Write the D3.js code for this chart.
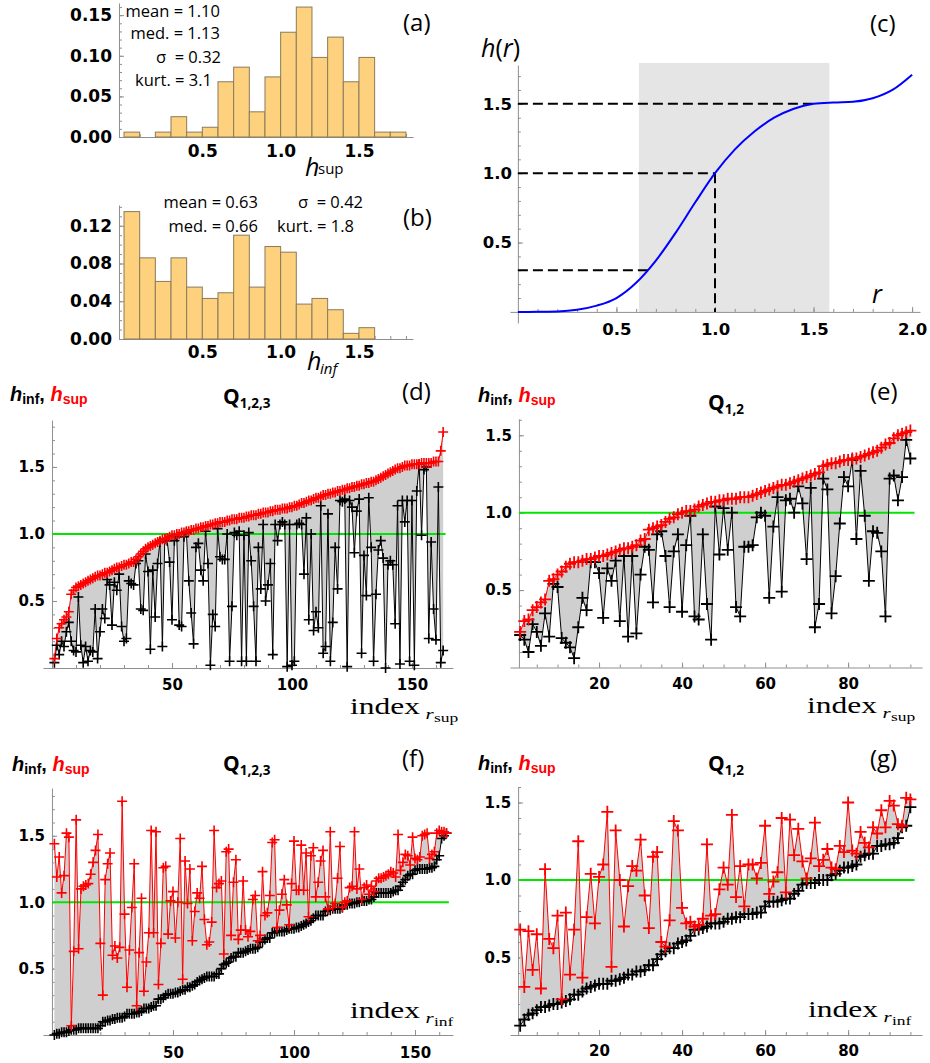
<!DOCTYPE html>
<html>
<head>
<meta charset="utf-8">
<script src="https://cdn.jsdelivr.net/npm/d3@7/dist/d3.min.js"></script>
<style>
  body { margin: 0; background: #fff; }
  svg { display: block; }
</style>
</head>
<body>
<svg id="fig" width="930" height="1063"></svg>
<script>
// ---------- data ----------
const binStart = [0.0, 0.1, 0.2, 0.3, 0.4, 0.5, 0.6, 0.7, 0.8, 0.9, 1.0, 1.1, 1.2, 1.3, 1.4, 1.5, 1.6, 1.7];
const binWidth = 0.1;
const supDensity = [0.006, 0, 0.006, 0.025, 0.006, 0.012, 0.068, 0.086, 0.031, 0.074, 0.129, 0.160, 0.098, 0.123, 0.068, 0.098, 0.006, 0.006];
const infDensity = [0.135, 0.086, 0.061, 0.086, 0.055, 0.043, 0.049, 0.110, 0.055, 0.098, 0.092, 0.037, 0.043, 0.031, 0.006, 0.012, 0, 0];
const supStats = ["mean = 1.10", "med. = 1.13", "σ\u00a0 = 0.32", "kurt. = 3.1"];
const infStats = ["mean = 0.63", "med. = 0.66", "σ\u00a0 = 0.42", "kurt. = 1.8"];

// h(r) sampled from panel (c)
const curveR = [0, 0.1, 0.2, 0.3, 0.4, 0.5, 0.6, 0.7, 0.8, 0.9, 1.0, 1.1, 1.2, 1.3, 1.4, 1.5, 1.6, 1.7, 1.8, 1.9, 2.0];
const curveH = [0, 0.0005, 0.003, 0.015, 0.045, 0.10, 0.21, 0.37, 0.57, 0.79, 1.00, 1.17, 1.30, 1.40, 1.465, 1.50, 1.51, 1.515, 1.54, 1.60, 1.71];
const windowR = [0.614, 1.58];
const windowTop = 1.795;
const guideR = [0.66, 1.0, 1.5];
const guideH = [0.3, 1.0, 1.5];
const guideDrop = [1.0];

// Q_{1,2,3}: pairs in order of increasing h_sup (panel d)
const q123Sup = [0.07,0.22,0.30,0.33,0.36,0.38,0.42,0.55,0.58,
  0.60,0.61,0.62,0.63,0.64,0.65,0.66,0.67,0.68,0.69,0.69,
  0.70,0.71,0.71,0.72,0.73,0.74,0.75,0.75,0.76,0.77,0.77,0.78,0.79,0.79,
  0.81,0.83,0.85,0.87,0.89,
  0.90,0.91,0.92,0.93,0.94,0.95,0.96,0.96,0.97,0.98,0.99,0.99,
  1.00,1.00,1.01,1.01,1.02,1.02,1.03,1.03,1.04,1.04,1.05,1.05,1.06,1.06,1.07,1.07,1.08,1.08,1.09,1.09,1.09,
  1.10,1.10,1.11,1.11,1.11,1.12,1.12,1.12,1.13,1.13,1.14,1.14,1.14,1.15,1.15,1.16,1.16,1.16,1.17,1.17,1.18,1.18,1.18,1.19,1.19,1.19,
  1.20,1.20,1.21,1.21,1.22,1.23,1.23,1.24,1.25,1.25,1.26,1.27,1.27,1.28,1.29,1.29,
  1.30,1.30,1.31,1.31,1.32,1.32,1.33,1.33,1.34,1.34,1.35,1.35,1.36,1.36,1.37,1.37,1.38,1.38,1.39,1.39,
  1.40,1.41,1.42,1.43,1.44,1.45,1.46,1.47,1.48,1.49,1.49,
  1.50,1.51,1.51,1.51,1.52,1.52,1.52,1.52,1.53,1.53,1.53,1.53,1.53,1.54,1.54,1.54,
  1.62,1.76];
const q123Inf = [0.04,0.17,0.10,0.20,0.16,0.27,0.34,0.20,0.13,0.12,
  0.53,0.17,0.04,0.16,0.05,0.13,0.12,0.44,0.07,0.27,
  0.44,0.37,0.66,0.62,0.32,0.64,0.58,0.70,0.31,0.20,
  0.22,0.65,0.63,0.62,0.78,0.80,0.44,0.43,0.85,0.72,
  0.14,0.73,0.38,0.78,0.94,0.16,0.96,0.95,0.79,0.36,
  0.95,0.98,0.32,0.31,0.98,1.01,0.65,0.41,0.18,0.90,
  0.93,0.73,0.65,1.02,0.78,0.02,0.40,0.31,1.04,0.83,
  0.81,0.81,1.00,0.05,0.46,1.01,0.99,1.02,0.05,0.99,
  0.05,1.01,0.80,0.46,0.05,0.90,0.59,1.07,0.50,0.62,
  0.78,0.10,1.07,0.95,1.07,1.09,1.07,0.01,1.07,0.02,
  0.05,1.07,1.08,1.07,0.70,1.12,0.36,1.00,0.28,0.42,
  0.30,1.21,0.11,0.16,1.15,0.05,0.34,0.90,0.59,1.25,
  1.24,1.26,0.01,1.25,1.20,0.86,1.17,1.26,0.11,0.84,
  0.54,1.27,0.90,0.05,0.55,0.88,0.95,0.82,0.00,0.77,
  0.80,0.77,0.33,1.21,0.03,1.25,1.09,1.25,0.05,1.25,
  0.02,1.32,1.52,0.99,1.48,1.50,0.22,0.94,0.44,0.21,
  1.35,0.04,0.13];

// Q_{1,2}: pairs in order of increasing h_sup (panel e)
const q12Sup = [0.23,0.30,0.31,0.37,0.39,0.42,0.44,
  0.56,0.57,0.60,0.62,0.65,0.67,0.68,0.68,0.69,0.70,0.70,0.71,0.72,0.72,0.73,0.74,0.75,0.76,0.77,0.77,0.78,0.79,
  0.82,0.83,0.89,0.90,0.91,0.92,0.94,0.96,0.97,0.99,
  1.00,1.01,1.01,1.02,1.04,1.05,1.06,1.07,1.07,1.08,1.08,1.09,1.09,1.09,1.10,1.10,1.10,1.11,1.12,1.13,1.14,1.15,1.16,1.17,1.18,1.18,1.19,1.20,1.21,1.22,1.23,1.24,1.25,1.26,
  1.30,1.31,1.32,1.32,1.33,1.34,1.34,1.35,1.35,1.36,1.37,1.38,1.39,1.40,1.42,1.44,1.45,1.48,1.50,1.51,1.52,1.53];
const q12Inf = [0.21,0.18,0.10,0.28,0.23,0.14,0.35,0.20,0.54,0.52,
  0.19,0.16,0.13,0.06,0.26,0.45,0.37,0.68,0.68,0.61,
  0.32,0.64,0.56,0.69,0.30,0.72,0.20,0.72,0.22,0.60,
  0.78,0.76,0.42,0.86,0.88,0.72,0.39,0.75,0.86,0.36,
  0.79,0.98,0.33,0.31,0.86,0.41,0.18,1.04,0.73,1.03,
  0.76,1.00,0.39,0.33,0.78,0.78,0.79,0.97,1.00,0.98,
  0.45,0.91,1.10,0.49,1.08,1.09,1.00,1.17,1.06,0.70,
  1.16,0.26,0.41,1.22,1.15,0.35,0.59,0.93,1.23,1.17,
  1.34,0.83,1.27,0.98,0.56,0.88,0.87,0.75,0.33,1.22,
  1.24,1.08,1.23,1.47,1.35];

// ---------- drawing ----------
const svg = d3.select("#fig");
svg.append("rect").attr("width", 930).attr("height", 1063).attr("fill", "#fff");

const AXIS_GRAY = "#8f8f8f";
const TICK_FONT = "DejaVu Sans";
const TEXT_FONT = "Open Sans";
const tenths = n => d3.range(1, n + 1).map(i => i / 10);
const hundredths = n => d3.range(1, n + 1).map(i => i / 100);

function drawAxes(o) {
  const g = svg.append("g");
  const y0 = o.y(o.yAt), x0 = o.x(o.xAt);
  const xg = g.append("g").attr("transform", `translate(0,${y0})`)
    .call(d3.axisBottom(o.x).tickValues(o.xMajor).tickFormat(o.xFmt)
      .tickSizeInner(-5).tickSizeOuter(0).tickPadding(o.xPad));
  const xm = g.append("g").attr("transform", `translate(0,${y0})`)
    .call(d3.axisBottom(o.x).tickValues(o.xMinor).tickFormat("").tickSizeInner(-3).tickSizeOuter(0));
  xm.select(".domain").remove();
  const yg = g.append("g").attr("transform", `translate(${x0},0)`)
    .call(d3.axisLeft(o.y).tickValues(o.yMajor).tickFormat(o.yFmt)
      .tickSizeInner(-5).tickSizeOuter(0).tickPadding(o.yPad));
  const ym = g.append("g").attr("transform", `translate(${x0},0)`)
    .call(d3.axisLeft(o.y).tickValues(o.yMinor).tickFormat("").tickSizeInner(-3).tickSizeOuter(0));
  ym.select(".domain").remove();
  [xg, xm, yg, ym].forEach(s => {
    s.attr("color", AXIS_GRAY);
    s.selectAll("text").attr("fill", "#000").attr("font-family", TICK_FONT)
      .attr("font-weight", "bold").attr("font-size", o.fs);
  });
  return g;
}

function label(x, y, text, size, opts = {}) {
  return svg.append("text").attr("x", x).attr("y", y)
    .attr("font-family", opts.family || TEXT_FONT).attr("font-size", size)
    .attr("font-style", opts.italic ? "italic" : null)
    .attr("font-weight", opts.bold ? "bold" : null)
    .attr("text-anchor", opts.anchor || null)
    .attr("fill", opts.fill || "#000").text(text);
}

// ---- (a) histogram of h_sup ----
const xA = d3.scaleLinear().domain([-0.032, 1.845]).range([119, 413]);
const yA = d3.scaleLinear().domain([0, 0.165]).range([137, 3]);
drawAxes({x: xA, y: yA, xAt: -0.032, yAt: 0, fs: 17, xPad: 8, yPad: 7,
  xMajor: [0.5, 1.0, 1.5], xMinor: tenths(18), yMajor: [0, 0.05, 0.10, 0.15], yMinor: hundredths(16),
  xFmt: d3.format(".1f"), yFmt: d3.format(".2f")});

// ---- (b) histogram of h_inf ----
const xB = d3.scaleLinear().domain([-0.032, 1.845]).range([119, 413]);
const yB = d3.scaleLinear().domain([0, 0.142]).range([339, 205]);
drawAxes({x: xB, y: yB, xAt: -0.032, yAt: 0, fs: 17, xPad: 7, yPad: 7,
  xMajor: [0.5, 1.0, 1.5], xMinor: tenths(18), yMajor: [0, 0.04, 0.08, 0.12], yMinor: hundredths(14),
  xFmt: d3.format(".1f"), yFmt: d3.format(".2f")});

function bars(x, y, dens) {
  svg.append("g").selectAll("rect")
    .data(binStart.map((b, i) => ({b, v: dens[i]})).filter(d => d.v > 0))
    .join("rect")
    .attr("x", d => x(d.b)).attr("width", d => x(d.b + binWidth) - x(d.b))
    .attr("y", d => y(d.v)).attr("height", d => y(0) - y(d.v))
    .attr("fill", "#fdd17e").attr("stroke", "#8a7b5c").attr("stroke-width", 1);
}
bars(xA, yA, supDensity);
bars(xB, yB, infDensity);

[[220, 16.7], [220, 39], [221, 62.7], [212, 86]].forEach((p, i) =>
  label(p[0], p[1], supStats[i], 16.5, {anchor: "end"}));
[[258, 208], [258, 232], [363, 208], [354, 232]].forEach((p, i) =>
  label(p[0], p[1], infStats[i], 16.5, {anchor: "end"}));

label(403, 31, "(a)", 24);
label(403, 226, "(b)", 24);
label(305, 176, "h", 25, {italic: true});
label(318, 174, "sup", 15);
label(307, 370, "h", 25, {italic: true});
label(320, 374, "inf", 15, {italic: true});

// ---- (c) h(r) ----
const xC = d3.scaleLinear().domain([-0.04, 2.04]).range([510, 920]);
const yC = d3.scaleLinear().domain([-0.08, 1.78]).range([323, 65]);
svg.append("rect")
  .attr("x", xC(windowR[0])).attr("width", xC(windowR[1]) - xC(windowR[0]))
  .attr("y", yC(windowTop)).attr("height", yC(0) - yC(windowTop))
  .attr("fill", "#e5e5e5");
drawAxes({x: xC, y: yC, xAt: 0, yAt: 0, fs: 16.5, xPad: 11, yPad: 6,
  xMajor: [0.5, 1.0, 1.5, 2.0], xMinor: tenths(20), yMajor: [0.5, 1.0, 1.5], yMinor: tenths(17),
  xFmt: d3.format(".1f"), yFmt: d3.format(".1f")});
const guides = svg.append("g").attr("stroke", "#000").attr("stroke-width", 2).attr("stroke-dasharray", "10,5");
guides.selectAll("line.h").data(guideR.map((r, i) => ({r, h: guideH[i]}))).join("line")
  .attr("x1", xC(0)).attr("x2", d => xC(d.r)).attr("y1", d => yC(d.h)).attr("y2", d => yC(d.h));
guides.selectAll("line.v").data(guideDrop).join("line")
  .attr("x1", d => xC(d)).attr("x2", d => xC(d))
  .attr("y1", d => yC(guideH[guideR.indexOf(d)])).attr("y2", yC(0));
svg.append("path").datum(curveR.map((r, i) => [r, curveH[i]]))
  .attr("fill", "none").attr("stroke", "#0000ff").attr("stroke-width", 2)
  .attr("d", d3.line().x(d => xC(d[0])).y(d => yC(d[1])).curve(d3.curveMonotoneX));
const hr = svg.append("text").attr("x", 481).attr("y", 57).attr("font-family", TEXT_FONT).attr("font-size", 25);
hr.append("tspan").attr("font-style", "italic").text("h");
hr.append("tspan").text("(");
hr.append("tspan").attr("font-style", "italic").text("r");
hr.append("tspan").text(")");
label(872, 303, "r", 25, {italic: true});
label(870, 32, "(c)", 24);

// ---- index panels ----
function hLabel(x, y) {
  const t = svg.append("text").attr("x", x).attr("y", y)
    .attr("font-family", "Liberation Sans").attr("font-weight", "bold");
  t.append("tspan").attr("font-style", "italic").attr("font-size", 20).text("h");
  t.append("tspan").attr("font-size", 14).attr("dy", 3).text("inf");
  t.append("tspan").attr("font-size", 20).attr("dy", -3).text(", ");
  t.append("tspan").attr("fill", "#f00").attr("font-style", "italic").attr("font-size", 20).text("h");
  t.append("tspan").attr("fill", "#f00").attr("font-size", 14).attr("dy", 3).text("sup");
}
function qLabel(x, y, sub) {
  const t = svg.append("text").attr("x", x).attr("y", y)
    .attr("font-family", TEXT_FONT).attr("font-weight", "bold");
  t.append("tspan").attr("font-size", 21).text("Q");
  t.append("tspan").attr("font-size", 13.5).attr("dy", 4).text(sub);
}
function indexLabel(x, y, sub) {
  const g = svg.append("g").attr("transform", `translate(${x},${y}) scale(1.4,1)`)
    .attr("font-family", "Liberation Serif");
  g.append("text").attr("font-size", 22.5).text("index");
  g.append("text").attr("x", 54).attr("y", 5).attr("font-size", 15).attr("font-style", "italic").text("r");
  g.append("text").attr("x", 60).attr("y", 8).attr("font-size", 12.5).text(sub);
}

function seriesPanel(o) {
  const n = o.pairs.length;
  drawAxes({x: o.x, y: o.y, xAt: o.xAt, yAt: 0, fs: 15, xPad: o.xPad, yPad: 7,
    xMajor: o.xMajor, xMinor: o.xMinor, yMajor: [0.5, 1.0, 1.5], yMinor: tenths(o.yMinorN),
    xFmt: d3.format("d"), yFmt: d3.format(".1f")});
  const g = svg.append("g");
  const X = (d, i) => o.x(i + 1);
  g.append("path").datum(o.pairs).attr("fill", "#cfcfcf")
    .attr("d", d3.area().x(X).y0(d => o.y(d.inf)).y1(d => o.y(d.sup)));
  g.append("line").attr("x1", o.x(o.xAt)).attr("x2", o.x(n + 1))
    .attr("y1", o.y(1)).attr("y2", o.y(1)).attr("stroke", "#00e600").attr("stroke-width", 2);
  g.append("path").datum(o.pairs).attr("fill", "none").attr("stroke", "#000").attr("stroke-width", 1)
    .attr("d", d3.line().x(X).y(d => o.y(d.inf)));
  g.append("path").datum(o.pairs).attr("fill", "none").attr("stroke", "#f00").attr("stroke-width", 1)
    .attr("d", d3.line().x(X).y(d => o.y(d.sup)));
  const s = o.mark;
  const plus = `M${-s},0H${s}M0,${-s}V${s}`;
  ["inf", "sup"].forEach(key => {
    g.append("g").selectAll("path").data(o.pairs).join("path")
      .attr("d", plus)
      .attr("transform", (d, i) => `translate(${o.x(i + 1)},${o.y(d[key])})`)
      .attr("fill", "none").attr("stroke", key === "inf" ? "#000" : "#f00")
      .attr("stroke-width", o.markW);
  });
}

const pairs123 = q123Sup.map((s, i) => ({sup: s, inf: q123Inf[i]}));
const pairs12 = q12Sup.map((s, i) => ({sup: s, inf: q12Inf[i]}));
const bySup = a => a.slice().sort((p, q) => p.sup - q.sup);
const byInf = a => a.slice().sort((p, q) => p.inf - q.inf);

// (d)
seriesPanel({pairs: bySup(pairs123),
  x: d3.scaleLinear().domain([-3.75, 167.1]).range([43, 453]),
  y: d3.scaleLinear().domain([0, 1.85]).range([668, 420]),
  xAt: 0, xPad: 11, xMajor: [50, 100, 150], xMinor: d3.range(10, 170, 10), yMinorN: 18, mark: 5, markW: 1.6});
// (e)
seriesPanel({pairs: bySup(pairs12),
  x: d3.scaleLinear().domain([-1.45, 97.8]).range([510, 922]),
  y: d3.scaleLinear().domain([0, 1.605]).range([667.5, 419]),
  xAt: 0.7, xPad: 11, xMajor: [20, 40, 60, 80], xMinor: d3.range(5, 100, 5), yMinorN: 16, mark: 6, markW: 1.8});
// (f)
seriesPanel({pairs: byInf(pairs123),
  x: d3.scaleLinear().domain([-3.7, 165.7]).range([43, 453]),
  y: d3.scaleLinear().domain([0, 1.86]).range([1035, 788]),
  xAt: 0, xPad: 12, xMajor: [50, 100, 150], xMinor: d3.range(10, 170, 10), yMinorN: 18, mark: 5, markW: 1.6});
// (g)
seriesPanel({pairs: byInf(pairs12),
  x: d3.scaleLinear().domain([-1.45, 97.8]).range([510, 922]),
  y: d3.scaleLinear().domain([0, 1.6]).range([1035, 787]),
  xAt: 0.5, xPad: 10, xMajor: [20, 40, 60, 80], xMinor: d3.range(5, 100, 5), yMinorN: 16, mark: 6, markW: 1.8});

hLabel(10, 401); qLabel(223, 404, "1,2,3"); label(402, 400, "(d)", 24); indexLabel(350, 714, "sup");
hLabel(478, 402); qLabel(708, 410, "1,2");   label(870, 400, "(e)", 24); indexLabel(807, 713, "sup");
hLabel(12, 771);  qLabel(223, 771, "1,2,3"); label(402, 767, "(f)", 24); indexLabel(350, 1018, "inf");
hLabel(478, 770); qLabel(708, 771, "1,2");   label(870, 767, "(g)", 24); indexLabel(808, 1017, "inf");
</script>
</body>
</html>
